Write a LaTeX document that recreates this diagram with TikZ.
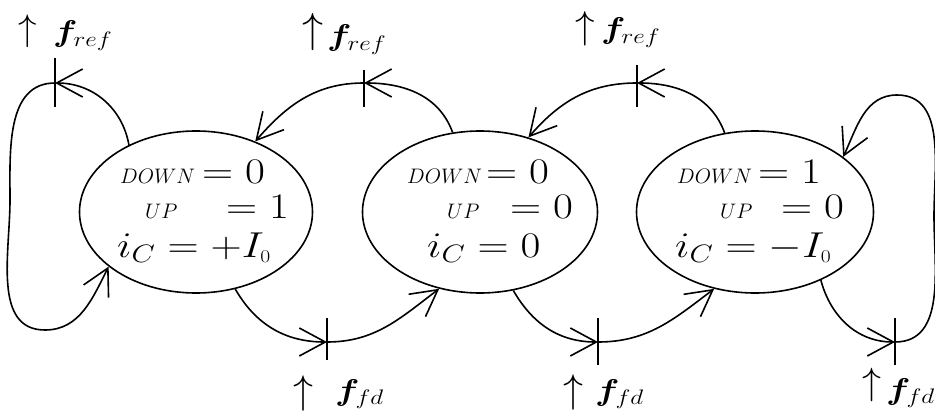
\RequirePackage{fix-cm}
\documentclass[tikz,border=0pt]{standalone}
\usepackage{amsmath,bm,graphicx}
\usetikzlibrary{shapes.geometric,arrows.meta}
\DeclareFontShape{OMS}{cmsy}{m}{n}{<->cmsy10}{}
\newcommand\widen[1]{\scalebox{1.2}[1]{#1}}
\newcommand\tallup[1]{\scalebox{#1}{$\uparrow$}}
\begin{document}
\begin{tikzpicture}[x=1pt,y=1pt,
  stateell/.style={draw,ellipse,line width=1.6pt,inner sep=0pt,minimum height=162pt},
  conn/.style={line width=1.6pt,-{Straight Barb[length=26pt,width=28pt,line width=1.6pt]}},
  tickmark/.style={line width=2pt},
  bigtxt/.style={inner sep=0pt,anchor=base west,font=\fontsize{36}{40}\selectfont},
  smalltxt/.style={inner sep=0pt,anchor=base west,font=\fontsize{21}{24}\selectfont},
  lbl/.style={inner sep=0pt,anchor=base west,font=\fontsize{30}{34}\selectfont},
  uparr/.style={inner sep=0pt,anchor=center}]
\fill[white] (0,0) rectangle (935,416);
\useasboundingbox (0,0) rectangle (935,416);

% states
\node[stateell,minimum width=233pt] (E1) at (196,204) {};
\node[stateell,minimum width=235pt] (E2) at (480,204) {};
\node[stateell,minimum width=237pt] (E3) at (755,204) {};

% texts of state 1
\node[smalltxt] (d1) at (120,233) {$DOWN$};
\node[bigtxt] (d1v) at (202,233) {\widen{$=0$}};
\node[smalltxt] (u1) at (145,198) {$UP$};
\node[bigtxt] (u1v) at (226,198) {\widen{$=1$}};
\node[bigtxt] (i1) at (117,159) {\widen{$i_C=+I_{\scriptscriptstyle 0}$}};
% texts of state 2
\node[smalltxt] (d2) at (407,233) {$DOWN$};
\node[bigtxt] (d2v) at (486,233) {\widen{$=0$}};
\node[smalltxt] (u2) at (447,198) {$UP$};
\node[bigtxt] (u2v) at (510,198) {\widen{$=0$}};
\node[bigtxt] (i2) at (427,159) {\widen{$i_C=0$}};
% texts of state 3
\node[smalltxt] (d3) at (677,233) {$DOWN$};
\node[bigtxt] (d3v) at (758,233) {\widen{$=1$}};
\node[smalltxt] (u3) at (720,198) {$UP$};
\node[bigtxt] (u3v) at (781,198) {\widen{$=0$}};
\node[bigtxt] (i3) at (675,159) {\widen{$i_C=-I_{\scriptscriptstyle 0}$}};

% tick points
\coordinate (t1) at (55,333);
\coordinate (t2) at (364,333);
\coordinate (t3) at (637,333);
\coordinate (t4) at (895,74);
\coordinate (t5) at (327,74);
\coordinate (t6) at (598,74);
\coordinate (w1) at (10,216);
\coordinate (w2) at (45,86);
\coordinate (w3) at (934,200);
\coordinate (w4) at (897,321);

% connectors
\draw[conn] (E1.135) to[out=100,in=0] (t1);
\draw[conn] (t1) to[out=180,in=90] (w1) to[out=270,in=180] (w2) to[out=0,in=243] (E1.212);
\draw[conn] (E2.109) to[out=110,in=0] (t2);
\draw[conn] (t2) to[out=180,in=49] (E1.50);
\draw[conn] (E3.111) to[out=110,in=0] (t3);
\draw[conn] (t3) to[out=180,in=49] (E2.57);
\draw[conn] (E3.314) to[out=285,in=180] (t4);
\draw[conn] (t4) to[out=0,in=270] (w3) to[out=90,in=0] (w4) to[out=180,in=65] (E3.32);
\draw[conn] (E1.297) to[out=300,in=180] (t5);
\draw[conn] (t5) to[out=0,in=217] (E2.242);
\draw[conn] (E2.293) to[out=300,in=180] (t6);
\draw[conn] (t6) to[out=0,in=217] (E3.242);

% ticks
\draw[tickmark] ([yshift=25pt]t1) -- ([yshift=-24pt]t1);
\draw[tickmark] ([yshift=13pt]t2) -- ([yshift=-24pt]t2);
\draw[tickmark] ([yshift=18pt]t3) -- ([yshift=-24pt]t3);
\draw[tickmark] ([yshift=24pt]t4) -- ([yshift=-23pt]t4);
\draw[tickmark] ([yshift=24pt]t5) -- ([yshift=-18pt]t5);
\draw[tickmark] ([yshift=24pt]t6) -- ([yshift=-23pt]t6);

% event labels
\node[uparr] (a1) at (28,385) {\tallup{3.7}};
\node[lbl] (f1) at (53,374) {\widen{$\bm{f}_{ref}$}};
\node[uparr] (a2) at (313,384) {\tallup{4.2}};
\node[lbl] (f2) at (327,370) {\widen{$\bm{f}_{ref}$}};
\node[uparr] (a3) at (585,387) {\tallup{3.9}};
\node[lbl] (f3) at (601,377) {\widen{$\bm{f}_{ref}$}};
\node[uparr] (a4) at (303,23) {\tallup{4}};
\node[lbl] (f4) at (335,16) {\widen{$\bm{f}_{fd}$}};
\node[uparr] (a5) at (573,24) {\tallup{4}};
\node[lbl] (f5) at (595,16) {\widen{$\bm{f}_{fd}$}};
\node[uparr] (a6) at (872,31) {\tallup{3.8}};
\node[lbl] (f6) at (886,17) {\widen{$\bm{f}_{fd}$}};
\end{tikzpicture}
\end{document}
